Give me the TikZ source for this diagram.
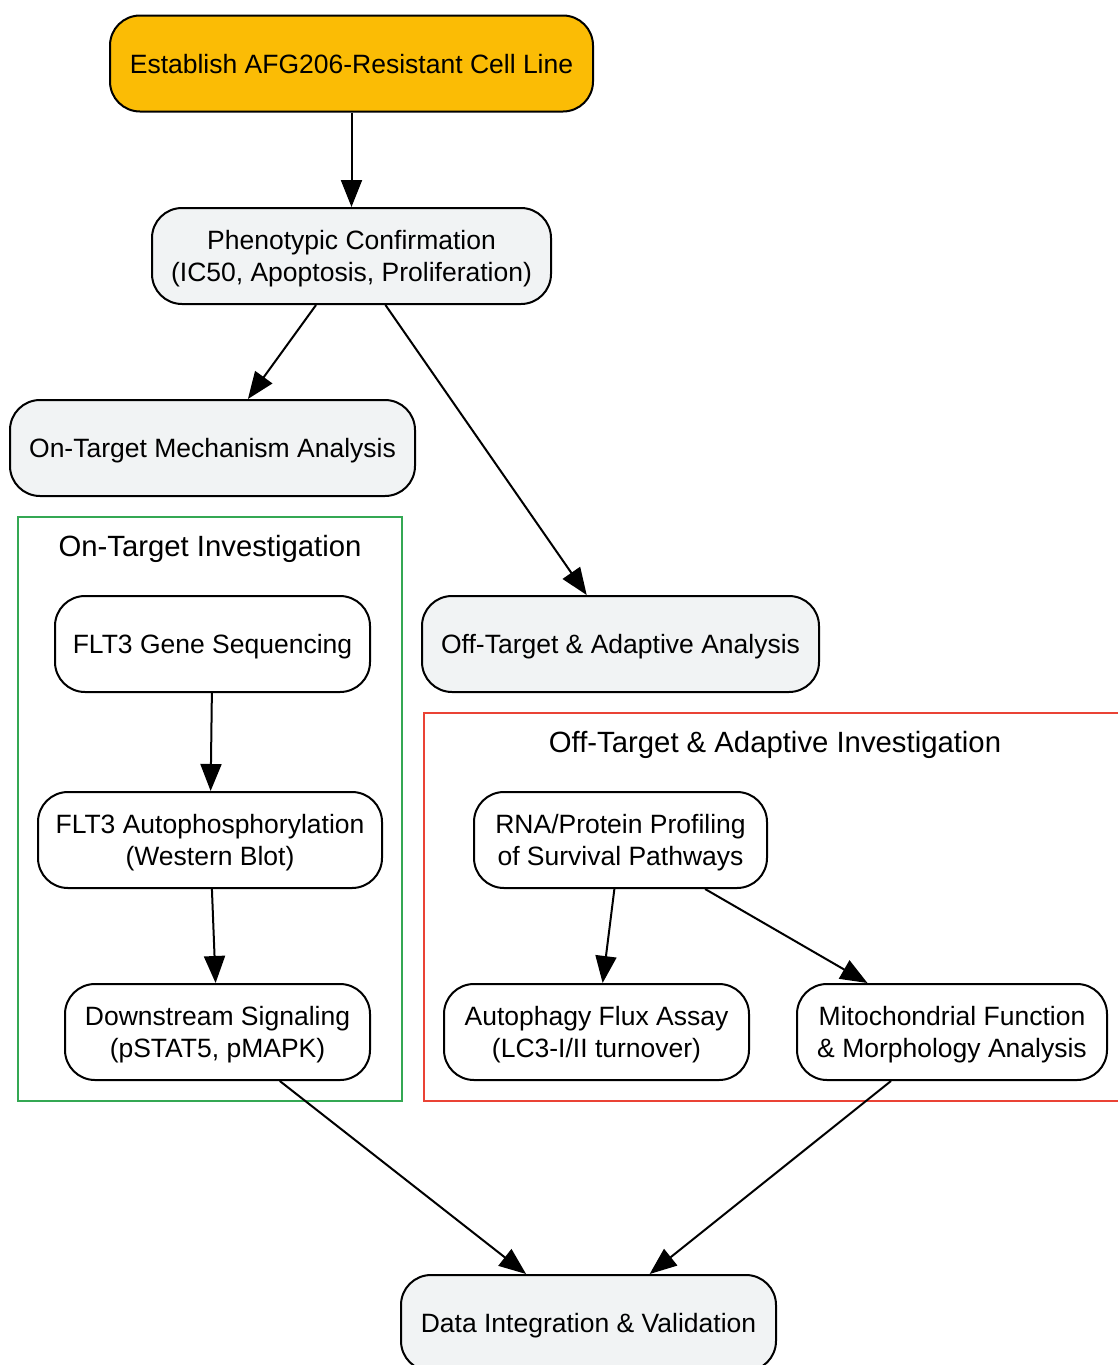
\documentclass[tikz,border=0pt]{standalone}
\usepackage{fontspec}
\setmainfont{Liberation Sans}
\usetikzlibrary{arrows.meta}
\definecolor{gorange}{HTML}{FBBC05}
\definecolor{ggrey}{HTML}{F1F3F4}
\definecolor{ggreen}{HTML}{34A853}
\definecolor{gred}{HTML}{EA4335}
\tikzset{
  box/.style={draw=black, line width=2pt, rounded corners=30pt, fill=white,
    align=center, inner sep=0pt, minimum height=96pt,
    font=\fontsize{26.5}{32}\selectfont, text height=22pt, text depth=3pt},
  two/.style={text height=54pt, text depth=3pt},
  greybox/.style={box, fill=ggrey},
  edge/.style={line width=2pt, -{Triangle[length=27pt,width=21pt]}},
  cluster/.style={line width=2pt},
  clabel/.style={font=\fontsize{29.3}{34}\selectfont, inner sep=0pt}
}
\begin{document}
\begin{tikzpicture}[x=1pt,y=-1pt]
\useasboundingbox (0,0) rectangle (1118,1365);
% clusters
\draw[cluster, draw=ggreen] (18,517) rectangle (402,1101);
\node[clabel] (lg) at (210,549) {On-Target Investigation};
\draw[cluster, draw=gred] (424,713) rectangle (1130,1101);
\node[clabel] (lr) at (775,745) {Off-Target \& Adaptive Investigation};
% nodes
\node[box, fill=gorange, minimum width=483pt] (est) at (351.5,63.5) {Establish AFG206-Resistant Cell Line};
\node[greybox, two, minimum width=399pt] (phen) at (351.5,256) {Phenotypic Confirmation\\(IC50, Apoptosis, Proliferation)};
\node[greybox, minimum width=405pt] (ont) at (212.5,448) {On-Target Mechanism Analysis};
\node[greybox, minimum width=397pt] (offt) at (620.5,644) {Off-Target \& Adaptive Analysis};
\node[box, minimum width=315pt] (seq) at (212.5,644) {FLT3 Gene Sequencing};
\node[box, two, minimum width=344pt] (auto) at (210,840) {FLT3 Autophosphorylation\\(Western Blot)};
\node[box, two, minimum width=305pt] (down) at (217.5,1032) {Downstream Signaling\\(pSTAT5, pMAPK)};
\node[box, two, minimum width=293pt] (rna) at (620.5,840) {RNA/Protein Profiling\\of Survival Pathways};
\node[box, two, minimum width=305pt] (autoph) at (596.5,1032) {Autophagy Flux Assay\\(LC3-I/II turnover)};
\node[box, two, minimum width=310pt] (mito) at (952,1032) {Mitochondrial Function\\\& Morphology Analysis};
\node[greybox, minimum width=375pt] (data) at (588.5,1323) {Data Integration \& Validation};
% edges
\draw[edge] (est) -- (phen);
\draw[edge] (phen) -- (ont);
\draw[edge] (phen) -- (offt);
\draw[edge] (seq) -- (auto);
\draw[edge] (auto) -- (down);
\draw[edge] (rna) -- (autoph);
\draw[edge] (rna) -- (mito);
\draw[edge] (down) -- (data);
\draw[edge] (mito) -- (data);
\end{tikzpicture}
\end{document}
